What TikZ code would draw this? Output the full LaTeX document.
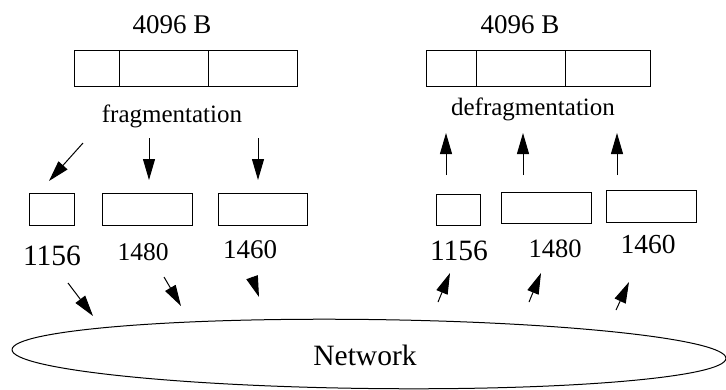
\documentclass[tikz,border=0pt]{standalone}
\usepackage{fontspec}
\setmainfont{Liberation Serif}
\usetikzlibrary{arrows.meta,shapes.geometric}
\tikzset{
  cell/.style={draw, line width=1pt, minimum height=36pt, inner sep=0pt, outer sep=0pt},
  frag/.style={draw, line width=1pt, inner sep=0pt, outer sep=0pt},
  lbl/.style={anchor=base, inner sep=0pt},
  flow/.style={line width=1pt, -{Triangle[length=21pt,width=12pt]}},
}
\begin{document}
\begin{tikzpicture}[x=1pt, y=-1pt]
\useasboundingbox (0,0) rectangle (726,389);

% datagram before fragmentation
\node[cell, minimum width=45pt] (la) at (96.5,68) {};
\node[cell, minimum width=89pt] (lb) at (163.5,68) {};
\node[cell, minimum width=89pt] (lc) at (252.5,68) {};
\node[lbl, font=\fontsize{27}{30}\selectfont] (lsize) at (172,33) {4096 B};
\node[lbl, font=\fontsize{25}{28}\selectfont] (lfrag) at (172,122) {fragmentation};

% reassembled datagram
\node[cell, minimum width=50pt] (ra) at (451,68) {};
\node[cell, minimum width=89pt] (rb) at (520.5,68) {};
\node[cell, minimum width=85pt] (rc) at (607.5,68) {};
\node[lbl, font=\fontsize{27}{30}\selectfont] (rsize) at (520,33) {4096 B};
\node[lbl, font=\fontsize{25}{28}\selectfont] (rfrag) at (533,115) {defragmentation};

% fragments on the sending side
\node[frag, minimum width=45pt, minimum height=32pt] (f1) at (51.5,209) {};
\node[frag, minimum width=90pt, minimum height=32pt] (f2) at (147,209) {};
\node[frag, minimum width=89pt, minimum height=32pt] (f3) at (262.5,209) {};
\node[lbl, font=\fontsize{29.5}{32}\selectfont] (n1) at (52,265) {1156};
\node[lbl, font=\fontsize{25.5}{28}\selectfont] (n2) at (143,260) {1480};
\node[lbl, font=\fontsize{27}{30}\selectfont] (n3) at (250,258) {1460};

% fragments on the receiving side
\node[frag, minimum width=44pt, minimum height=31pt] (g1) at (458,209.5) {};
\node[frag, minimum width=90pt, minimum height=31pt] (g2) at (546,207.5) {};
\node[frag, minimum width=90pt, minimum height=32pt] (g3) at (651,206) {};
\node[lbl, font=\fontsize{29.5}{32}\selectfont] (m1) at (459,260) {1156};
\node[lbl, font=\fontsize{26.5}{29}\selectfont] (m2) at (555,257) {1480};
\node[lbl, font=\fontsize{27.5}{30}\selectfont] (m3) at (648,253) {1460};

% network cloud
\node[draw, line width=1pt, ellipse, minimum width=714pt, minimum height=69pt,
      inner sep=0pt, rotate=-0.7] (net) at (369,354) {};
\node[lbl, font=\fontsize{29.5}{32}\selectfont] (netlbl) at (365,365) {Network};

% arrow end points
\coordinate (a1s) at (83,143);  \coordinate (a1e) at (49,181);
\coordinate (a2s) at (149,138); \coordinate (a2e) at (149,180);
\coordinate (a3s) at (258,138); \coordinate (a3e) at (258,180);
\coordinate (b1s) at (446,175); \coordinate (b1e) at (446,133);
\coordinate (b2s) at (523,175); \coordinate (b2e) at (523,133);
\coordinate (b3s) at (617,175); \coordinate (b3e) at (617,133);
\coordinate (c1s) at (68,283);  \coordinate (c1e) at (93,316);
\coordinate (c2s) at (164,277); \coordinate (c2e) at (181,306);
\coordinate (c3s) at (252,277); \coordinate (c3e) at (259,297);
\coordinate (d1s) at (438,302); \coordinate (d1e) at (450,273);
\coordinate (d2s) at (529,302); \coordinate (d2e) at (541,273);
\coordinate (d3s) at (616,310); \coordinate (d3e) at (629,282);

\draw[flow] (a1s) -- (a1e);
\draw[flow] (a2s) -- (a2e);
\draw[flow] (a3s) -- (a3e);
\draw[flow] (b1s) -- (b1e);
\draw[flow] (b2s) -- (b2e);
\draw[flow] (b3s) -- (b3e);
\draw[flow] (c1s) -- (c1e);
\draw[flow] (c2s) -- (c2e);
\draw[flow] (c3s) -- (c3e);
\draw[flow] (d1s) -- (d1e);
\draw[flow] (d2s) -- (d2e);
\draw[flow] (d3s) -- (d3e);
\end{tikzpicture}
\end{document}
